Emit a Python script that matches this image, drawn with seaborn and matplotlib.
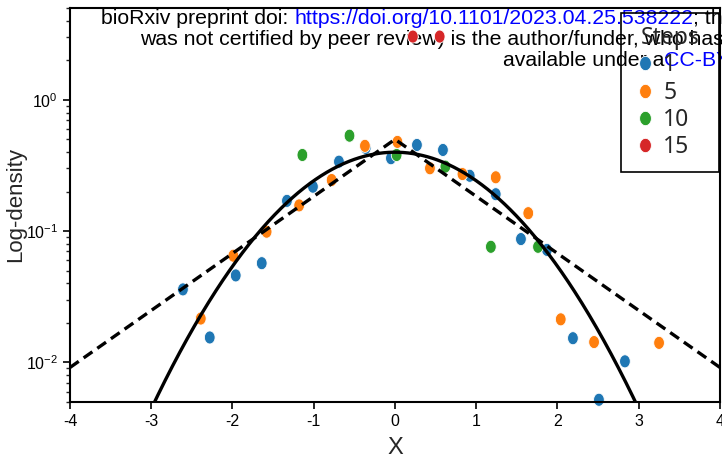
import numpy as np
import pandas as pd
import seaborn as sns
import matplotlib.pyplot as plt
from matplotlib.path import Path

# Histogram points (x bin centre, density), per number of steps
x_steps1 = [-2.61, -2.28, -1.96, -1.64, -1.33, -1.01, -0.69, -0.36, -0.05,
            0.27, 0.59, 0.92, 1.24, 1.55, 1.87, 2.19, 2.51, 2.83]
d_steps1 = [0.036, 0.0155, 0.046, 0.057, 0.170, 0.218, 0.338, 0.430, 0.359,
            0.453, 0.415, 0.264, 0.191, 0.087, 0.072, 0.0153, 0.0052, 0.0102]

x_steps5 = [-2.39, -1.99, -1.58, -1.18, -0.78, -0.37, 0.03, 0.43, 0.83,
            1.24, 1.64, 2.04, 2.45, 3.25]
d_steps5 = [0.0216, 0.065, 0.099, 0.157, 0.245, 0.446, 0.478, 0.301, 0.272,
            0.257, 0.137, 0.0213, 0.0143, 0.0141]

x_steps10 = [-1.14, -0.56, 0.02, 0.62, 1.18, 1.76]
d_steps10 = [0.38, 0.533, 0.38, 0.31, 0.076, 0.076]

x_steps15 = [0.22, 0.55]
d_steps15 = [3.03, 3.03]

step_labels = ["1", "5", "10", "15"]
step_colors = ["#1f77b4", "#ff7f0e", "#2ca02c", "#d62728"]

# reference densities: standard normal (solid) and Laplace b=1 (dashed)
gauss_mu, gauss_sigma = 0.0, 1.0
laplace_mu, laplace_b = 0.0, 1.0

frames = []
for lab, xs, ds in zip(step_labels,
                       [x_steps1, x_steps5, x_steps10, x_steps15],
                       [d_steps1, d_steps5, d_steps10, d_steps15]):
    frames.append(pd.DataFrame({"X": xs, "Density": ds, "Steps": lab}))
df = pd.concat(frames, ignore_index=True)

sns.set_style("ticks")
plt.rcParams["font.family"] = ["Liberation Sans", "DejaVu Sans"]
plt.rcParams["axes.unicode_minus"] = False

fig = plt.figure(figsize=(7.22, 4.65), dpi=100)
ax = fig.add_axes([70 / 722, 1 - 402 / 465, 650 / 722, 394 / 465])
ax.set_facecolor("none")

# slightly tall ellipse marker (the original image is stretched vertically)
t = np.linspace(0, 2 * np.pi, 60)
ellipse = Path(np.column_stack([0.82 * np.cos(t), np.sin(t)]))

sns.scatterplot(data=df, x="X", y="Density", hue="Steps", hue_order=step_labels,
                palette=step_colors, marker=ellipse, s=88, edgecolor="white",
                linewidth=0.6, ax=ax, zorder=2, clip_on=False)

xs = np.linspace(-4, 4, 801)
gauss = np.exp(-0.5 * ((xs - gauss_mu) / gauss_sigma) ** 2) / (gauss_sigma * np.sqrt(2 * np.pi))
laplace = np.exp(-np.abs(xs - laplace_mu) / laplace_b) / (2 * laplace_b)
sns.lineplot(x=xs, y=gauss, color="black", lw=2.4, ax=ax, zorder=3)
sns.lineplot(x=xs, y=laplace, color="black", lw=2.4, ax=ax, zorder=3,
             linestyle=(0, (3.2, 1.8)))

ax.set_yscale("log")
ax.set_xlim(-4, 4)
ax.set_ylim(0.005, 5)
ax.set_xticks(range(-4, 5))
ax.set_xlabel("X", fontsize=17, labelpad=6)
ax.set_ylabel("Log-density", fontsize=16)
ax.yaxis.set_label_coords(-0.068, 0.5)
ax.tick_params(which="major", direction="out", length=5, width=1.2, labelsize=11.5,
               colors="black")
ax.tick_params(which="minor", direction="out", length=3, width=1.0)
for sp in ax.spines.values():
    sp.set_visible(True)
    sp.set_color("black")
    sp.set_linewidth(1.5)

old = ax.get_legend()
handles = old.legend_handles
labels = [tx.get_text() for tx in old.texts]
leg = ax.legend(handles, labels, title="Steps", loc="upper right",
                bbox_to_anchor=(0.8477, 0.5, 0.1508, 0.487), mode="expand",
                borderaxespad=0,
                prop={"family": "Noto Sans", "size": 16.5},
                title_fontproperties={"family": "Noto Sans", "size": 16.5},
                frameon=True, fancybox=False, edgecolor="black", facecolor="none",
                framealpha=1, borderpad=0.55, handlelength=1.0, handletextpad=0.3,
                labelspacing=0.15, markerscale=1.1)
leg.get_frame().set_linewidth(1.2)

# bioRxiv watermark lines (cut off at the right edge like the original)
renderer = fig.canvas.get_renderer()


def text_line(parts, x0_px, base_px):
    x = x0_px / 722
    y = 1 - base_px / 465
    for s, c in parts:
        tx = fig.text(x, y, s, color=c, fontsize=15.3, family="Liberation Sans",
                      va="baseline", ha="left", zorder=-1)
        x = tx.get_window_extent(renderer).x1 / fig.bbox.width


text_line([("bioRxiv preprint doi: ", "black"),
           ("https://doi.org/10.1101/2023.04.25.538222", "blue"),
           ("; this version posted April 27, 2023. The copyright holder for this preprint (which", "black")],
          101, 24)
text_line([("was not certified by peer review) is the author/funder, who has granted bioRxiv "
            "a license to display the preprint in perpetuity. It is made", "black")],
          140, 45)
text_line([("available under a", "black"),
           ("CC-BY 4.0 International license", "blue"),
           (".", "black")],
          503, 66)

fig.savefig("out.png", dpi=100)
